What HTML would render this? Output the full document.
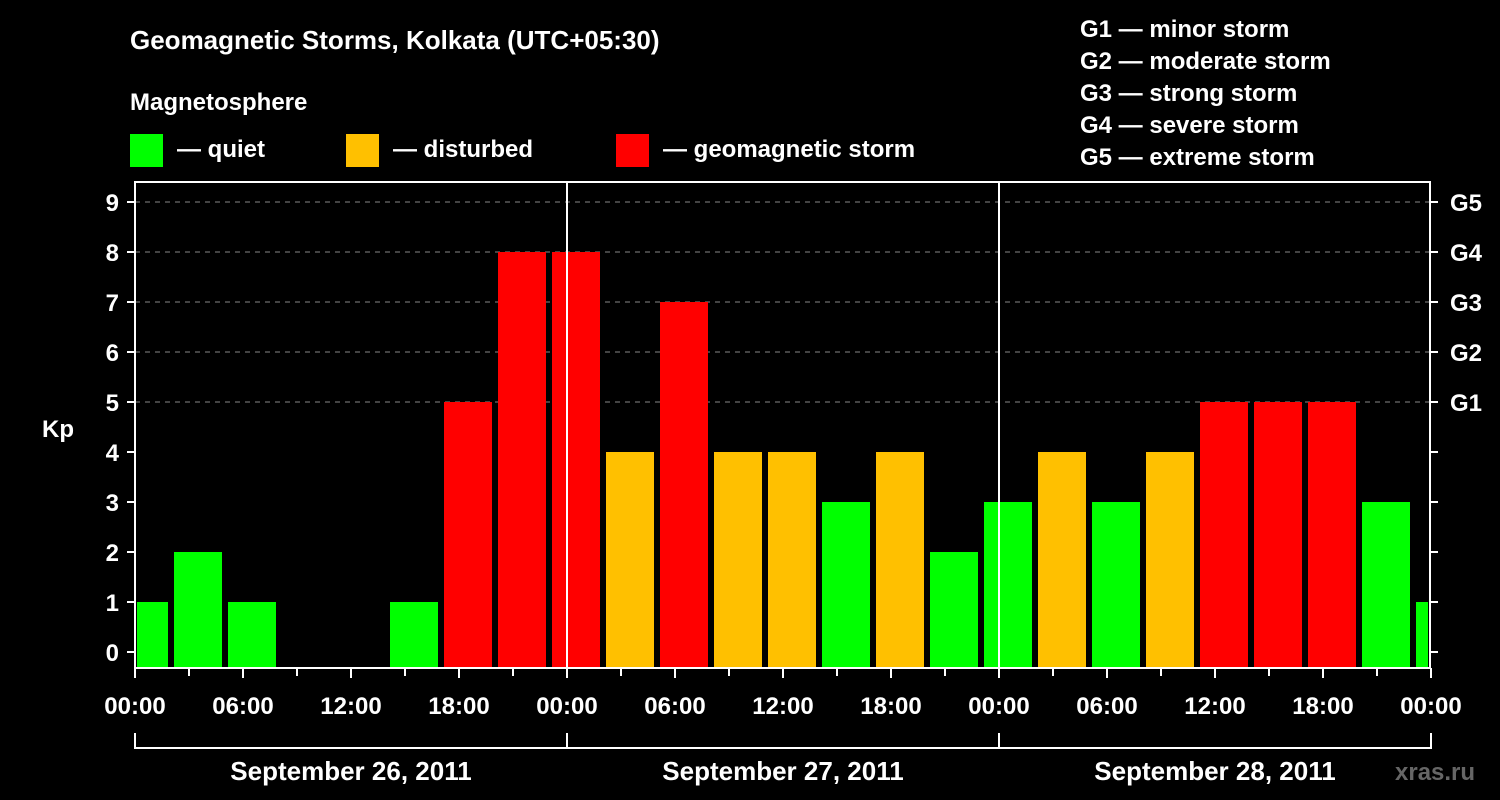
<!DOCTYPE html>
<html><head><meta charset="utf-8"><style>
html,body{margin:0;padding:0;background:#000;}
svg{display:block;}
text{font-family:"Liberation Sans",sans-serif;font-weight:bold;fill:#fff;}
</style></head><body>
<svg id="chart" width="1500" height="800">
<text x="130" y="49" font-size="26">Geomagnetic Storms, Kolkata (UTC+05:30)</text>
<text x="130" y="110" font-size="24">Magnetosphere</text>
<g><rect x="130" y="134" width="33" height="33" fill="#00ff00"/><text x="177" y="157" font-size="24">— quiet</text></g>
<g><rect x="346" y="134" width="33" height="33" fill="#ffc000"/><text x="393" y="157" font-size="24">— disturbed</text></g>
<g><rect x="616" y="134" width="33" height="33" fill="#ff0000"/><text x="663" y="157" font-size="24">— geomagnetic storm</text></g>
<g font-size="24">
<text x="1080" y="37">G1 — minor storm</text>
<text x="1080" y="69">G2 — moderate storm</text>
<text x="1080" y="101">G3 — strong storm</text>
<text x="1080" y="133">G4 — severe storm</text>
<text x="1080" y="165">G5 — extreme storm</text>
</g>
<g id="grid"></g><g id="bars"></g><g id="axes"></g>
<text x="730" y="780" font-size="1" fill="#000"></text>
<text x="1395" y="780" font-size="24" style="fill:#666">xras.ru</text>
</svg>
<script>
const kpValues=[1,2,1,0,0,1,5,8,8,4,7,4,4,3,4,2,3,4,3,4,5,5,5,3,1];
const yTicks=[0,1,2,3,4,5,6,7,8,9];
const gLabels=["G1","G2","G3","G4","G5"];
const xLabels=["00:00","06:00","12:00","18:00","00:00","06:00","12:00","18:00","00:00","06:00","12:00","18:00","00:00"];
const dayLabels=["September 26, 2011","September 27, 2011","September 28, 2011"];
const NS="http://www.w3.org/2000/svg";
const L=135,R=1430,T=182,B=668;
const yS=v=>652-v*50;
const xH=h=>L+h*18; // hours from start
function mk(tag,attrs,parent,txt){const e=document.createElementNS(NS,tag);for(const k in attrs)e.setAttribute(k,attrs[k]);if(txt!==undefined)e.textContent=txt;parent.appendChild(e);return e;}
const grid=document.getElementById('grid'),bars=document.getElementById('bars'),axes=document.getElementById('axes');
yTicks.forEach(v=>{if(v>=5){const l=mk('line',{x1:L,x2:R,y1:yS(v),y2:yS(v),stroke:'#888','stroke-dasharray':'5,5','stroke-width':1},grid);

}});
kpValues.forEach((v,i)=>{if(v<=0)return;
let x0=xH(-0.8333+3*i), x1=x0+48;
x0=Math.max(x0,L+2);x1=Math.min(x1,R-2);
const c=v>=5?'#ff0000':(v>=4?'#ffc000':'#00ff00');
const r=mk('rect',{x:x0,y:yS(v),width:x1-x0,height:B-yS(v),fill:c},bars);

});
mk('rect',{x:L,y:T,width:R-L,height:B-T,fill:'none',stroke:'#fff','stroke-width':2},axes);
[24,48].forEach(h=>{mk('line',{x1:xH(h),x2:xH(h),y1:T,y2:B,stroke:'#fff','stroke-width':2},axes);});
yTicks.forEach(v=>{const y=yS(v);
mk('line',{x1:L-8,x2:L,y1:y,y2:y,stroke:'#fff','stroke-width':2},axes);
mk('line',{x1:R,x2:R+8,y1:y,y2:y,stroke:'#fff','stroke-width':2},axes);
const t=mk('text',{x:L-16,y:y+9,'font-size':24,'text-anchor':'end'},axes,String(v));

});
gLabels.forEach((g,i)=>{const t=mk('text',{x:R+20,y:yS(5+i)+9,'font-size':24},axes,g);

});
const kp=mk('text',{x:42,y:437,'font-size':24},axes,'Kp');


for(let h=0;h<=72;h+=3){const major=h%6===0;mk('line',{x1:xH(h),x2:xH(h),y1:B,y2:B+(major?10:8),stroke:'#fff','stroke-width':2},axes);}
xLabels.forEach((s,i)=>{const t=mk('text',{x:xH(i*6),y:714,'font-size':24,'text-anchor':'middle'},axes,s);

});
mk('line',{x1:L,x2:R,y1:748,y2:748,stroke:'#fff','stroke-width':2},axes);
[0,24,48,72].forEach(h=>mk('line',{x1:xH(h),x2:xH(h),y1:733,y2:749,stroke:'#fff','stroke-width':2},axes));
dayLabels.forEach((s,i)=>{const t=mk('text',{x:xH(i*24+12),y:780,'font-size':26,'text-anchor':'middle'},axes,s);

});
</script>
</body></html>
